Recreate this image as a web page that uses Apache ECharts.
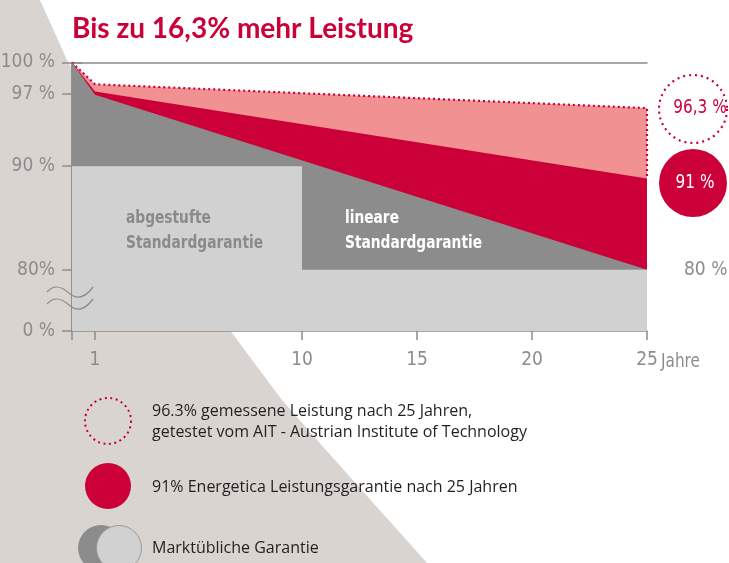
<!DOCTYPE html>
<html>
<head>
<meta charset="utf-8">
<script src="https://cdn.jsdelivr.net/npm/echarts@6/dist/echarts.min.js"></script>
<style>
  html, body { margin: 0; padding: 0; background: #fff; }
  #main { width: 729px; height: 563px; }
</style>
</head>
<body>
<div id="main"></div>
<script>
// Werte (Jahre / Leistung in %)
var years = [0, 1, 25];
var measured = [100, 97.9, 95.6];     // gemessene Leistung (AIT)
var energetica = [100, 97.2, 88.8];   // Energetica Garantie
var linear = [100, 96.9, 80];         // lineare Standardgarantie
var stepYears = [0, 10, 10, 25];
var stepped = [90, 90, 80, 80];       // abgestufte Standardgarantie

var xTicks = [0, 1, 10, 15, 20, 25];
var xLabels = [1, 10, 15, 20, 25];
var yTicks = [74.1, 80, 90, 97, 100];
var yLabels = ["0 %", "80%", "90 %", "97 %", "100 %"];

var title = "Bis zu 16,3% mehr Leistung";
var legendTexts = [
  "96.3% gemessene Leistung nach 25 Jahren,\ngetestet vom AIT - Austrian Institute of Technology",
  "91% Energetica Leistungsgarantie nach 25 Jahren",
  "Marktübliche Garantie"
];

var RED = "#cc0039";
var PINK = "#f29191";
var DARK = "#8c8c8c";
var LIGHT = "#d1d1d1";
var AXIS = "#8c8c8c";
var NARROW = "'Liberation Sans Narrow', 'DejaVu Sans Condensed', sans-serif";

function pairs(xs, ys) {
  return xs.map(function (x, i) { return [x, ys[i]]; });
}

// Wellenlinie fuer den Achsenbruch
function wave(y) {
  return [
    {
      type: "bezierCurve", z: 20,
      shape: { x1: 47, y1: y, cpx1: 54, cpy1: y - 8, cpx2: 61, cpy2: y - 6, x2: 69, y2: y + 1 },
      style: { stroke: AXIS, lineWidth: 1.3, fill: null }
    },
    {
      type: "bezierCurve", z: 20,
      shape: { x1: 69, y1: y + 1, cpx1: 77, cpy1: y + 8, cpx2: 85, cpy2: y + 6, x2: 93, y2: y - 5 },
      style: { stroke: AXIS, lineWidth: 1.3, fill: null }
    }
  ];
}

// schmaler Text (gestaucht)
function narrowText(x, y, text, style) {
  return {
    type: "text", z: 21, x: x, y: y, scaleX: 0.85,
    style: Object.assign({ text: text, x: 0, y: 0, fontFamily: NARROW }, style)
  };
}

var measuredData = pairs(years, measured);
measuredData.push([25, energetica[energetica.length - 1]]); // gepunktete Kante bei 25 Jahren

var myChart = echarts.init(document.getElementById("main"));

var graphics = [
  // heller Hintergrundkeil links
  {
    type: "polygon",
    z: -10,
    silent: true,
    shape: { points: [[0, 0], [40, 0], [67, 60], [150, 200], [232, 333], [282, 400], [317, 440], [427, 563], [0, 563]] },
    style: { fill: "#dad4d1" }
  },
  narrowText(126, 206, "abgestufte\nStandardgarantie", { fill: "#8a8a8a", fontSize: 18, fontWeight: "bold", lineHeight: 25, verticalAlign: "top" }),
  narrowText(345, 206, "lineare\nStandardgarantie", { fill: "#ffffff", fontSize: 18, fontWeight: "bold", lineHeight: 25, verticalAlign: "top" }),
  narrowText(661, 362, "Jahre", { fill: AXIS, fontSize: 20, verticalAlign: "middle" }),
  // Kreise rechts
  {
    type: "circle",
    z: 20,
    shape: { cx: 693, cy: 109, r: 34 },
    style: { fill: "#fff", stroke: RED, lineWidth: 2.2, lineDash: [2, 4] }
  },
  narrowText(700, 108, "96,3 %", { fill: RED, fontSize: 20, align: "center", verticalAlign: "middle" }),
  {
    type: "circle",
    z: 20,
    shape: { cx: 693, cy: 183, r: 34 },
    style: { fill: RED }
  },
  narrowText(695, 183, "91 %", { fill: "#fff", fontSize: 20, align: "center", verticalAlign: "middle" }),
  // Legende
  {
    type: "circle",
    z: 20,
    shape: { cx: 108, cy: 421, r: 23 },
    style: { fill: null, stroke: RED, lineWidth: 2, lineDash: [2, 3.5] }
  },
  {
    type: "text",
    z: 20,
    style: { text: legendTexts[0], x: 152, y: 422, fill: "#231f20", fontSize: 16, fontFamily: "Open Sans", lineHeight: 21, verticalAlign: "middle" }
  },
  {
    type: "circle",
    z: 20,
    shape: { cx: 108, cy: 486, r: 23 },
    style: { fill: RED }
  },
  {
    type: "text",
    z: 20,
    style: { text: legendTexts[1], x: 152, y: 487, fill: "#231f20", fontSize: 16, fontFamily: "Open Sans", verticalAlign: "middle" }
  },
  {
    type: "circle",
    z: 20,
    shape: { cx: 101, cy: 548, r: 23 },
    style: { fill: DARK }
  },
  {
    type: "circle",
    z: 21,
    shape: { cx: 119, cy: 548, r: 22.5 },
    style: { fill: LIGHT, stroke: "#9a9a9a", lineWidth: 1 }
  },
  {
    type: "text",
    z: 20,
    style: { text: legendTexts[2], x: 152, y: 548, fill: "#231f20", fontSize: 16, fontFamily: "Open Sans", verticalAlign: "middle" }
  }
].concat(wave(292), wave(304));

var option = {
  animation: false,
  title: {
    text: title,
    left: 67,
    top: 10,
    textStyle: { color: RED, fontSize: 28, fontWeight: "bold", fontFamily: "Lato" }
  },
  grid: { left: 72, right: 82, top: 62.5, bottom: 232, outerBoundsMode: "none", containLabel: false },
  xAxis: [
    {
      type: "value",
      min: 0,
      max: 25,
      axisLine: { lineStyle: { color: AXIS, width: 1.5 } },
      axisTick: { customValues: xTicks, length: 9, lineStyle: { color: AXIS, width: 1.5 } },
      axisLabel: {
        customValues: xLabels,
        margin: 20,
        color: AXIS,
        fontSize: 19,
        fontFamily: NARROW
      },
      splitLine: { show: false }
    },
    {
      type: "value",
      position: "top",
      min: 0,
      max: 25,
      axisLine: { lineStyle: { color: AXIS, width: 1.5 } },
      axisTick: { show: false },
      axisLabel: { show: false },
      splitLine: { show: false }
    }
  ],
  yAxis: [
    {
      type: "value",
      min: yTicks[0],
      max: 100,
      axisLine: { show: true, lineStyle: { color: AXIS, width: 1.5 } },
      axisTick: { show: true, customValues: yTicks, length: 10, lineStyle: { color: AXIS, width: 1.5 } },
      axisLabel: {
        customValues: yTicks,
        margin: 17,
        color: AXIS,
        fontSize: 19,
        fontFamily: NARROW,
        formatter: function (v) {
          for (var i = 0; i < yTicks.length; i++) {
            if (Math.abs(yTicks[i] - v) < 0.01) return yLabels[i];
          }
          return "";
        }
      },
      splitLine: { show: false }
    },
    {
      type: "value",
      position: "right",
      min: yTicks[0],
      max: 100,
      axisLine: { show: true, lineStyle: { color: AXIS, width: 1.5 } },
      axisTick: { show: true, customValues: [80, 100], length: 10, lineStyle: { color: AXIS, width: 1.5 } },
      axisLabel: {
        customValues: [80],
        margin: 37,
        color: AXIS,
        fontSize: 19,
        fontFamily: NARROW,
        formatter: function () { return "80 %"; }
      },
      splitLine: { show: false }
    }
  ],
  series: [
    {
      name: "gemessen",
      type: "line",
      data: measuredData,
      showSymbol: false,
      lineStyle: { color: RED, width: 2.2, type: [2, 3] },
      areaStyle: { color: PINK, opacity: 1, origin: "start" },
      z: 2
    },
    {
      name: "Energetica",
      type: "line",
      data: pairs(years, energetica),
      showSymbol: false,
      lineStyle: { width: 0 },
      areaStyle: { color: RED, opacity: 1, origin: "start" },
      z: 3
    },
    {
      name: "linear",
      type: "line",
      data: pairs(years, linear),
      showSymbol: false,
      lineStyle: { width: 0 },
      areaStyle: { color: DARK, opacity: 1, origin: "start" },
      z: 4
    },
    {
      name: "abgestuft",
      type: "line",
      data: pairs(stepYears, stepped),
      showSymbol: false,
      lineStyle: { width: 0 },
      areaStyle: { color: LIGHT, opacity: 1, origin: "start" },
      z: 5
    }
  ],
  graphic: graphics
};

option && myChart.setOption(option);
</script>
</body>
</html>
